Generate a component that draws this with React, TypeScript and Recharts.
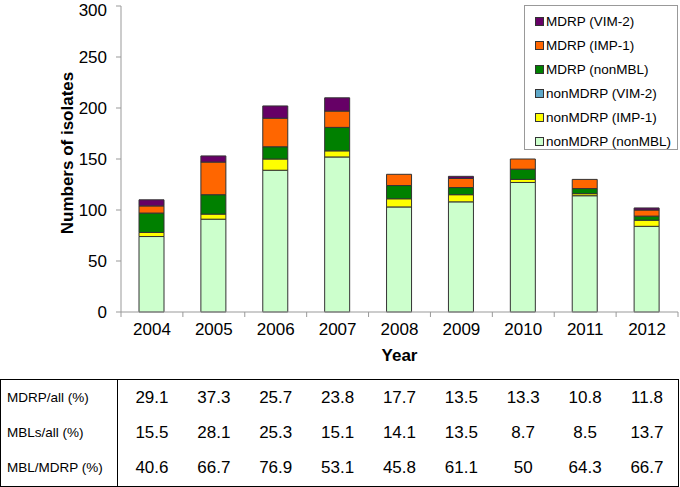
import { BarChart, Bar, XAxis, YAxis, Legend } from 'recharts'

const YEARS = ['2004', '2005', '2006', '2007', '2008', '2009', '2010', '2011', '2012']

// stack order, bottom to top
const NON_MDRP_NON_MBL = [74, 91, 139, 152, 103, 108, 127, 114, 84]
const NON_MDRP_IMP1 = [4, 5, 11, 6, 8, 7, 3, 2, 6]
const NON_MDRP_VIM2 = [0, 0, 0, 0, 0, 0, 0, 0, 0]
const MDRP_NON_MBL = [19, 19, 12, 23, 13, 7, 10, 5, 4]
const MDRP_IMP1 = [7, 32, 28, 16, 11, 9, 10, 9, 6]
const MDRP_VIM2 = [6, 6, 12, 13, 0, 2, 0, 0, 2]

const Y_TICKS = [0, 50, 100, 150, 200, 250, 300]

const TABLE_LABELS = ['MDRP/all (%)', 'MBLs/all (%)', 'MBL/MDRP (%)']
const MDRP_ALL = ['29.1', '37.3', '25.7', '23.8', '17.7', '13.5', '13.3', '10.8', '11.8']
const MBLS_ALL = ['15.5', '28.1', '25.3', '15.1', '14.1', '13.5', '8.7', '8.5', '13.7']
const MBL_MDRP = ['40.6', '66.7', '76.9', '53.1', '45.8', '61.1', '50', '64.3', '66.7']

const SERIES = [
  { key: 'nonMdrpNonMbl', name: 'nonMDRP (nonMBL)', color: '#ccffcc', values: NON_MDRP_NON_MBL },
  { key: 'nonMdrpImp1', name: 'nonMDRP (IMP-1)', color: '#ffff00', values: NON_MDRP_IMP1 },
  { key: 'nonMdrpVim2', name: 'nonMDRP (VIM-2)', color: '#5fa8c8', values: NON_MDRP_VIM2 },
  { key: 'mdrpNonMbl', name: 'MDRP (nonMBL)', color: '#008000', values: MDRP_NON_MBL },
  { key: 'mdrpImp1', name: 'MDRP (IMP-1)', color: '#ff6600', values: MDRP_IMP1 },
  { key: 'mdrpVim2', name: 'MDRP (VIM-2)', color: '#660066', values: MDRP_VIM2 },
]

const data = YEARS.map((year, i) => {
  const row: Record<string, string | number> = { year }
  SERIES.forEach((s) => { row[s.key] = s.values[i] })
  return row
})

const W = 680
const H = 487
const MARGIN = { top: 6, right: 2, left: 0, bottom: 145 }
const Y_AXIS_W = 121
const BAND = (W - MARGIN.left - MARGIN.right - Y_AXIS_W) / YEARS.length
const AXIS = '#999'
const FONT = 'Arial, "Liberation Sans", Helvetica, sans-serif'

const YearTick = (props: any) => {
  const { x, y, payload, index } = props
  const half = BAND / 2
  return (
    <g>
      <line x1={x - half} x2={x - half} y1={y} y2={y + 5} stroke={AXIS} />
      {index === YEARS.length - 1 && (
        <line x1={x + half} x2={x + half} y1={y} y2={y + 5} stroke={AXIS} />
      )}
      <text x={x} y={y + 17} dy="0.35em" textAnchor="middle" fontSize={17} fill="#000" fontFamily={FONT}>
        {payload.value}
      </text>
    </g>
  )
}

// keeps the top label ("300") inside the picture
const CountTick = (props: any) => {
  const { x, y, payload } = props
  return (
    <text x={x} y={Math.max(y, 10)} dy="0.35em" textAnchor="end" fontSize={17} fill="#000" fontFamily={FONT}>
      {payload.value}
    </text>
  )
}

const LegendBox = () => (
  <div
    style={{
      width: 154,
      height: 145,
      boxSizing: 'border-box',
      border: '1px solid #999',
      background: '#fff',
      paddingTop: 3,
      fontFamily: FONT,
      fontSize: 13.5,
      color: '#000',
    }}
  >
    {[...SERIES].reverse().map((s) => (
      <div key={s.key} style={{ height: 24, display: 'flex', alignItems: 'center', paddingLeft: 10 }}>
        <span
          style={{
            width: 7,
            height: 7,
            background: s.color,
            border: '1px solid #333',
            marginRight: 2,
            display: 'inline-block',
          }}
        />
        <span>{s.name}</span>
      </div>
    ))}
  </div>
)

const TABLE_ROWS = [MDRP_ALL, MBLS_ALL, MBL_MDRP]

export default function App() {
  return (
    <div style={{ position: 'absolute', left: 0, top: 0, width: W, height: H, fontFamily: FONT, background: '#fff' }}>
      <BarChart width={W} height={H} data={data} margin={MARGIN} barSize={25}>
        <XAxis
          dataKey="year"
          height={30}
          tickLine={false}
          tickSize={0}
          tickMargin={0}
          axisLine={{ stroke: AXIS }}
          tick={<YearTick />}
          interval={0}
          label={{
            content: (p: any) => {
              const vb = p.viewBox
              return (
                <text x={vb.x + vb.width / 2} y={vb.y + 43} dy="0.35em" textAnchor="middle"
                  fontSize={17} fontWeight="bold" fontFamily={FONT} fill="#000">
                  Year
                </text>
              )
            },
          }}
        />
        <XAxis xAxisId="top" dataKey="year" orientation="top" height={0} tick={false} tickLine={false}
          axisLine={{ stroke: AXIS }} />
        <YAxis
          width={Y_AXIS_W}
          domain={[0, 300]}
          ticks={Y_TICKS}
          interval={0}
          tickSize={5}
          tickMargin={9}
          tickLine={{ stroke: AXIS }}
          axisLine={{ stroke: AXIS }}
          tick={<CountTick />}
          label={{
            content: (p: any) => {
              const vb = p.viewBox
              const cy = vb.y + vb.height / 2 - 6
              return (
                <text x={67} y={cy} dy="0.35em" textAnchor="middle" transform={`rotate(-90, 67, ${cy})`}
                  fontSize={17} fontWeight="bold" fontFamily={FONT} fill="#000">
                  Numbers of isolates
                </text>
              )
            },
          }}
        />
        <YAxis yAxisId="right" orientation="right" width={0} domain={[0, 300]} tick={false} tickLine={false}
          axisLine={{ stroke: AXIS }} />
        <Legend
          layout="horizontal"
          verticalAlign="middle"
          align="center"
          wrapperStyle={{ top: 5, left: 524, width: 154 }}
          content={() => <LegendBox />}
        />
        {SERIES.map((s) => (
          <Bar
            key={s.key}
            dataKey={s.key}
            name={s.name}
            stackId="a"
            fill={s.color}
            stroke="#333"
            strokeWidth={1}
            isAnimationActive={false}
          />
        ))}
      </BarChart>

      <div
        style={{
          position: 'absolute',
          left: 0,
          top: 379,
          width: 679,
          height: 108,
          boxSizing: 'border-box',
          border: '1.5px solid #000',
          display: 'flex',
        }}
      >
        <div style={{ width: 117, borderRight: '1.5px solid #000', boxSizing: 'border-box' }}>
          {TABLE_LABELS.map((l) => (
            <div key={l} style={{ height: 35, display: 'flex', alignItems: 'center', paddingLeft: 6, fontSize: 13.5 }}>
              {l}
            </div>
          ))}
        </div>
        <div style={{ paddingLeft: Y_AXIS_W + MARGIN.left - 118 }}>
          {TABLE_ROWS.map((row, r) => (
            <div key={r} style={{ height: 35, display: 'flex', alignItems: 'center' }}>
              {row.map((v, i) => (
                <div key={i} style={{ width: BAND, textAlign: 'center', fontSize: 17 }}>{v}</div>
              ))}
            </div>
          ))}
        </div>
      </div>
    </div>
  )
}
